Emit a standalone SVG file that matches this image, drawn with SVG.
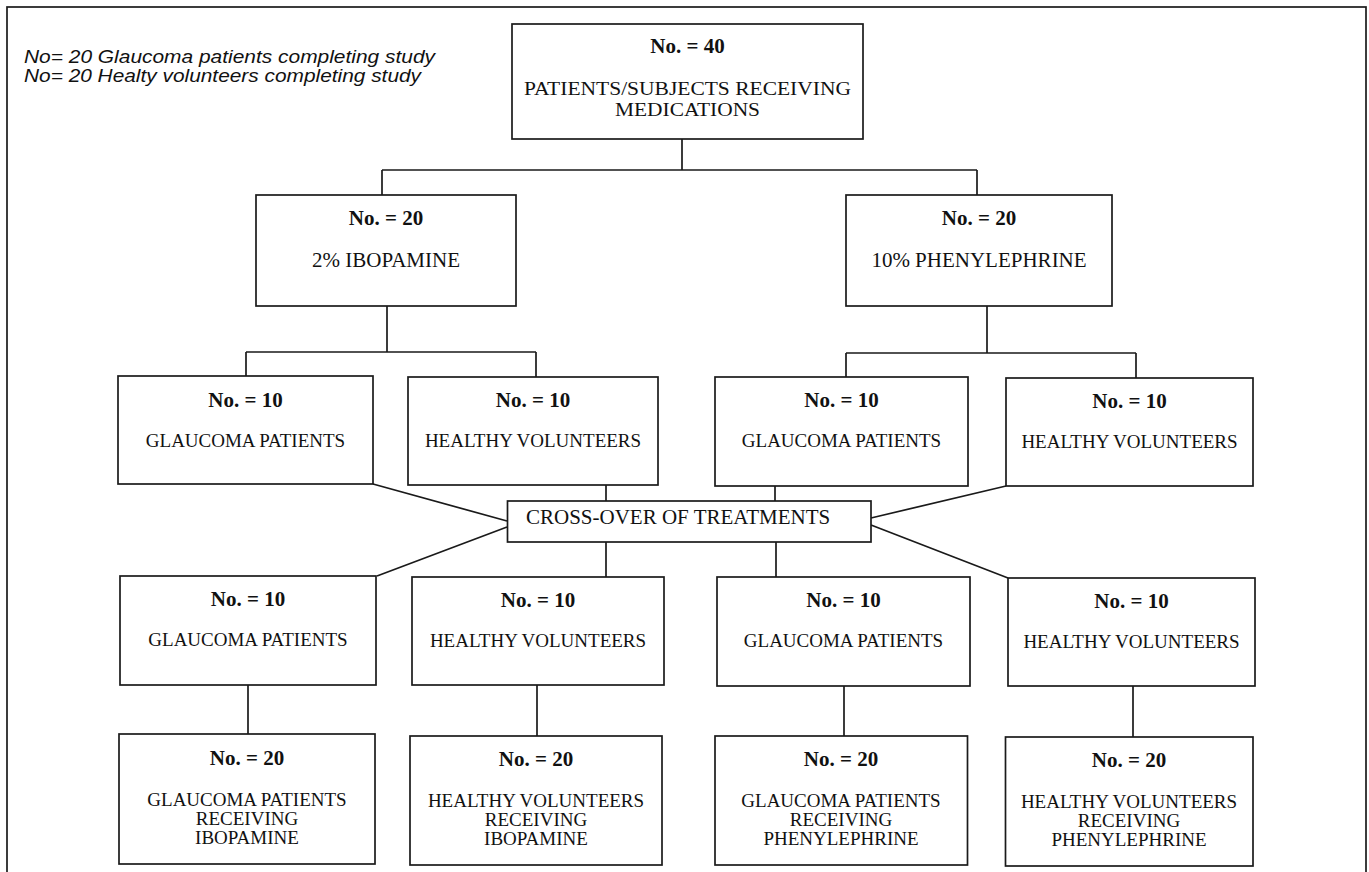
<svg xmlns="http://www.w3.org/2000/svg" width="1369" height="872" viewBox="0 0 1369 872">
<style>
  .box { fill: #ffffff; stroke: #1a1a1a; stroke-width: 1.7; }
  .con { fill: none; stroke: #1a1a1a; stroke-width: 1.7; }
  .b { font-family: "Liberation Serif", "Times New Roman", serif; font-weight: bold; font-size: 21px; fill: #111; text-anchor: middle; }
  .t { font-family: "Liberation Serif", "Times New Roman", serif; font-size: 19px; fill: #111; text-anchor: middle; }
  .tl { font-family: "Liberation Serif", "Times New Roman", serif; font-size: 21px; fill: #111; text-anchor: middle; }
  .tt { font-family: "Liberation Serif", "Times New Roman", serif; font-size: 19.5px; fill: #111; text-anchor: middle; }
  .note { font-family: "Liberation Sans", Arial, sans-serif; font-style: italic; font-size: 18px; fill: #111; }
</style>
<rect x="0" y="0" width="1369" height="872" fill="#ffffff"/>
<rect x="7" y="7" width="1359" height="890" fill="none" stroke="#1a1a1a" stroke-width="1.7"/>

<g id="note">
  <text class="note" x="24" y="63" textLength="411" lengthAdjust="spacingAndGlyphs">No= 20 Glaucoma patients completing study</text>
  <text class="note" x="24" y="82" textLength="397" lengthAdjust="spacingAndGlyphs">No= 20 Healty volunteers completing study</text>
</g>

<g id="connectors">
  <path class="con" d="M682,139 V170 M382,170 H977 M382,170 V195 M977,170 V195"/>
  <path class="con" d="M387,306 V352 M246,352 H536 M246,352 V376 M536,352 V377"/>
  <path class="con" d="M987,306 V353 M846,353 H1136 M846,353 V377 M1136,353 V378"/>
  <path class="con" d="M373,484 L507,521 M606,485 V501 M775,486 V501 M1006,486 L871,518"/>
  <path class="con" d="M507,527 L377,576 M606,542 V577 M776,542 V577 M871,525 L1008,578"/>
  <path class="con" d="M248,685 V734 M537,685 V736 M844,686 V736 M1133,686 V737"/>
</g>

<g id="n-total">
  <rect class="box" x="512" y="24" width="351" height="115"/>
  <text class="b" x="687.5" y="53">No. = 40</text>
  <text class="tt" x="687.5" y="95" textLength="327" lengthAdjust="spacingAndGlyphs">PATIENTS/SUBJECTS RECEIVING</text>
  <text class="tt" x="687.5" y="116" textLength="145" lengthAdjust="spacingAndGlyphs">MEDICATIONS</text>
</g>

<g id="n-ibopamine">
  <rect class="box" x="256" y="195" width="260" height="111"/>
  <text class="b" x="386" y="225">No. = 20</text>
  <text class="tl" x="386" y="267">2% IBOPAMINE</text>
</g>

<g id="n-phenylephrine">
  <rect class="box" x="846" y="195" width="266" height="111"/>
  <text class="b" x="979" y="225">No. = 20</text>
  <text class="tl" x="979" y="267">10% PHENYLEPHRINE</text>
</g>

<g id="n-ibo-glaucoma">
  <rect class="box" x="118" y="376" width="255" height="108"/>
  <text class="b" x="245.5" y="407">No. = 10</text>
  <text class="t" x="245.5" y="447">GLAUCOMA PATIENTS</text>
</g>

<g id="n-ibo-healthy">
  <rect class="box" x="408" y="377" width="250" height="108"/>
  <text class="b" x="533" y="407">No. = 10</text>
  <text class="t" x="533" y="447">HEALTHY VOLUNTEERS</text>
</g>

<g id="n-phe-glaucoma">
  <rect class="box" x="715" y="377" width="253" height="109"/>
  <text class="b" x="841.5" y="407">No. = 10</text>
  <text class="t" x="841.5" y="447">GLAUCOMA PATIENTS</text>
</g>

<g id="n-phe-healthy">
  <rect class="box" x="1006" y="378" width="247" height="108"/>
  <text class="b" x="1129.5" y="408">No. = 10</text>
  <text class="t" x="1129.5" y="448">HEALTHY VOLUNTEERS</text>
</g>

<g id="n-crossover">
  <rect class="box" x="507.5" y="501" width="363.5" height="41"/>
  <text class="tl" x="526" y="524" style="text-anchor:start">CROSS-OVER OF TREATMENTS</text>
</g>

<g id="n-x-glaucoma-1">
  <rect class="box" x="120" y="576" width="256" height="109"/>
  <text class="b" x="248" y="606">No. = 10</text>
  <text class="t" x="248" y="646">GLAUCOMA PATIENTS</text>
</g>

<g id="n-x-healthy-1">
  <rect class="box" x="412" y="577" width="252" height="108"/>
  <text class="b" x="538" y="607">No. = 10</text>
  <text class="t" x="538" y="647">HEALTHY VOLUNTEERS</text>
</g>

<g id="n-x-glaucoma-2">
  <rect class="box" x="717" y="577" width="253" height="109"/>
  <text class="b" x="843.5" y="607">No. = 10</text>
  <text class="t" x="843.5" y="647">GLAUCOMA PATIENTS</text>
</g>

<g id="n-x-healthy-2">
  <rect class="box" x="1008" y="578" width="247" height="108"/>
  <text class="b" x="1131.5" y="608">No. = 10</text>
  <text class="t" x="1131.5" y="648">HEALTHY VOLUNTEERS</text>
</g>

<g id="n-glaucoma-ibo">
  <rect class="box" x="119" y="734" width="256" height="130"/>
  <text class="b" x="247" y="765">No. = 20</text>
  <text class="t" x="247" y="806">GLAUCOMA PATIENTS</text>
  <text class="t" x="247" y="825">RECEIVING</text>
  <text class="t" x="247" y="844">IBOPAMINE</text>
</g>

<g id="n-healthy-ibo">
  <rect class="box" x="410" y="736" width="252" height="129"/>
  <text class="b" x="536" y="766">No. = 20</text>
  <text class="t" x="536" y="807">HEALTHY VOLUNTEERS</text>
  <text class="t" x="536" y="826">RECEIVING</text>
  <text class="t" x="536" y="845">IBOPAMINE</text>
</g>

<g id="n-glaucoma-phe">
  <rect class="box" x="715" y="736" width="252.5" height="129"/>
  <text class="b" x="841" y="766">No. = 20</text>
  <text class="t" x="841" y="807">GLAUCOMA PATIENTS</text>
  <text class="t" x="841" y="826">RECEIVING</text>
  <text class="t" x="841" y="845">PHENYLEPHRINE</text>
</g>

<g id="n-healthy-phe">
  <rect class="box" x="1005.5" y="737" width="247.5" height="129"/>
  <text class="b" x="1129" y="767">No. = 20</text>
  <text class="t" x="1129" y="808">HEALTHY VOLUNTEERS</text>
  <text class="t" x="1129" y="827">RECEIVING</text>
  <text class="t" x="1129" y="846">PHENYLEPHRINE</text>
</g>
</svg>
